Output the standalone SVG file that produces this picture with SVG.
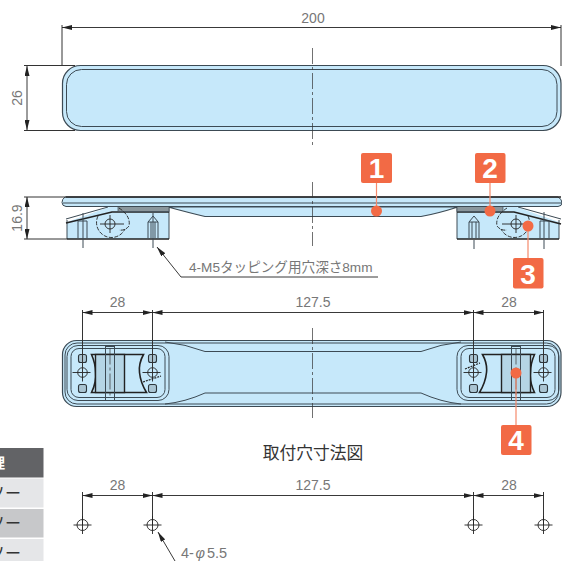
<svg xmlns="http://www.w3.org/2000/svg" xmlns:xlink="http://www.w3.org/1999/xlink" width="562" height="561" viewBox="0 0 562 561">
<style>
text{font-family:"Liberation Sans","Noto Sans CJK JP",sans-serif}
.dim{font-size:14px;fill:#777;text-anchor:middle}
.lbl{font-size:13.6px;fill:#777}
.d{fill:none;stroke:#222;stroke-width:.9}
.e{fill:none;stroke:#333;stroke-width:1}
.c{fill:none;stroke:#333;stroke-width:.7;stroke-dasharray:16 3 3 3}
.o{fill:#c6e8fa;stroke:#3c4a54;stroke-width:1.2}
.t{fill:none;stroke:#3c4a54;stroke-width:1}
.th{fill:none;stroke:#222;stroke-width:1.6}
.sq{fill:#a9c4d2;stroke:#2c363c;stroke-width:1.1}
.l{fill:none;stroke:#f58a6c;stroke-width:1.2}
.b{fill:#f26a45}
.n{font-size:28px;font-weight:bold;fill:#fff;text-anchor:middle}
.h{fill:none;stroke:#222;stroke-width:.9}
</style>
<defs>
<marker id="a" viewBox="0 0 10 5" refX="10" refY="2.500" markerWidth="10" markerHeight="5" markerUnits="userSpaceOnUse" orient="auto-start-reverse"><path d="M0 0L10 2.500L0 5z" fill="#222"/></marker>
<g id="hole"><circle r="5.500" class="h"/><path d="M-9 0H9M0-9V9" class="h"/></g>
<g id="mhole"><circle r="4.800" class="h"/><path d="M-10 0H8M0-9V9" class="h"/></g>
<g id="mount">
<rect x="4.500" y="5" width="102" height="55" rx="11" class="t"/>
<rect x="8.500" y="8" width="94" height="49" rx="8" class="t"/>
<rect x="16" y="14" width="8" height="8" rx="2" class="sq"/>
<rect x="16" y="44" width="8" height="8" rx="2" class="sq"/>
<rect x="86" y="14" width="8" height="8" rx="2" class="sq"/>
<rect x="86" y="44" width="8" height="8" rx="2" class="sq"/>
<path d="M29 14H81Q76 23 77 32Q78 42 84 52H29Q34 42 33 32Q33 23 29 14z" class="th" stroke-width="1.200"/>
<rect x="33" y="14" width="29" height="38" fill="#b5d5e5" stroke="#222" stroke-width="1.400"/>
<rect x="43" y="6" width="9" height="54" class="t"/>
<path d="M47.500 8V58" class="c"/>
</g>
</defs>

<g id="table">
<rect x="0" y="448" width="43.500" height="29.500" fill="#626366"/>
<rect x="0" y="478.500" width="43.500" height="29" fill="#e5e6e8"/>
<rect x="0" y="509" width="43.500" height="28.500" fill="#c7c8ca"/>
<rect x="0" y="539" width="43.500" height="22" fill="#e5e6e8"/>
<text x="5" y="468" font-size="14" font-weight="bold" fill="#fff" text-anchor="end">理</text>
<text x="21" y="499" font-size="16" fill="#333" text-anchor="end">ソー</text>
<text x="21" y="529" font-size="16" fill="#333" text-anchor="end">ソー</text>
<text x="21" y="559" font-size="16" fill="#333" text-anchor="end">ソー</text>
</g>

<g id="top-view">
<rect x="62.500" y="65.500" width="498.500" height="65" rx="18" class="o" stroke-width="1.600"/>
<rect x="66.500" y="69.500" width="490.500" height="57" rx="15" class="t"/>
</g>

<g id="side-view">
<path d="M67 222L112 206H169V239H67z" fill="#c6e8fa"/>
<path d="M457 206H514L559 222V239H457z" fill="#c6e8fa"/>
<path d="M168 207Q190 213 205 216.500H421Q436 214 458 207z" class="o"/>
<path d="M67 220V239M169 207V239" class="t"/>
<path d="M457 207V239M559 220V239" class="t"/>
<path d="M67 239H169M457 239H559" class="th" stroke-width="1.200"/>
<path d="M66 223L112 212H169" class="th"/>
<path d="M66 219L108 207" class="t"/>
<path d="M457 212H514L561 224" class="th"/>
<path d="M518 207L561 219" class="t"/>
<rect x="118" y="206.500" width="51" height="5" fill="#8a969c" stroke="#3c4a54" stroke-width=".7"/>
<rect x="457" y="206.500" width="46" height="5" fill="#8a969c" stroke="#3c4a54" stroke-width=".7"/>
<path d="M65 197H558Q562 199 562 203Q562 206 558 206.500H66Q62 206 62 202.500Q62 199 65 197z" fill="#c6e8fa" stroke="#3c4a54"/>
<path d="M66 197H561" class="th" stroke-width="2"/>
<path d="M63 203H562" class="t" stroke-width=".8"/>
<path d="M148 238V222L153 216L158 222V238M148 222H158M151 222V238M155 222V238" class="t"/>
<path d="M78 238V221H87V238M83 213V248M153 213V248" class="t"/>
<path d="M469 238V222L474 216L479 222V238M469 222H479M472 222V238M476 222V238" class="t"/>
<path d="M540 238V221H549V238M474 240V249M544 240V249M544 212V238" class="t"/>
<g fill="none" stroke="#222" stroke-width=".9" stroke-dasharray="4 1.500"><path d="M98 216A14 14 0 1 0 125 229"/><path d="M119 208Q131 216 129 226Q125 231 119 230"/><path d="M528 216A14 14 0 1 1 501 229"/><path d="M507 208Q495 216 497 226Q501 231 507 230"/></g>
<circle cx="110" cy="224" r="5" class="h"/><path d="M100 224H124M110 215V233" class="h"/>
<circle cx="516" cy="224" r="5" class="h"/><path d="M502 224H526M516 215V233" class="h"/>
</g>

<g id="bottom-view">
<rect x="62.500" y="340.500" width="498.500" height="66" rx="14" class="o"/>
<rect x="65" y="343" width="493.500" height="61" rx="12" class="t" stroke-width=".7"/>
<path d="M165 342Q185 344 205 351.500H421Q441 344 461 342M165 404Q185 402 205 393H421Q441 402 461 404" class="t"/>
<use xlink:href="#mount" href="#mount" x="62.500" y="340.500"/>
<use xlink:href="#mount" href="#mount" transform="translate(563.500 340.500) scale(-1 1)"/>
<use xlink:href="#mhole" href="#mhole" x="82.500" y="372.500"/>
<use xlink:href="#mhole" href="#mhole" x="152.500" y="372.500"/>
<use xlink:href="#mhole" href="#mhole" x="473.500" y="372.500"/>
<use xlink:href="#mhole" href="#mhole" x="543.500" y="372.500"/>
<path d="M143 382L161 376M465 369L480 363" stroke="#222" stroke-width="1.200" stroke-dasharray="2 1" fill="none"/>
</g>

<g id="connectors">
<path d="M62 25V66M561 25V66" class="e"/>
<path d="M62 27.500H561" class="d" marker-start="url(#a)" marker-end="url(#a)"/>
<path d="M24 65.500H75M24 130.500H75" class="e"/>
<path d="M27 66V130" class="d" marker-start="url(#a)" marker-end="url(#a)"/>
<path d="M24 197H66M24 239H67" class="e"/>
<path d="M27 197V239" class="d" marker-start="url(#a)" marker-end="url(#a)"/>
<path d="M312.500 48V148M312.500 182V246M312.500 328V418" class="c"/>
<path d="M181 277H378" class="d"/>
<path d="M181 277L157 247" class="d" marker-end="url(#a)"/>
<path d="M82.500 310V373M152.500 310V373M473.500 310V373M543.500 310V373" class="e"/>
<path d="M82.500 312.500H152.500" class="d" marker-start="url(#a)" marker-end="url(#a)"/>
<path d="M152.500 312.500H473.500" class="d" marker-start="url(#a)" marker-end="url(#a)"/>
<path d="M473.500 312.500H543.500" class="d" marker-start="url(#a)" marker-end="url(#a)"/>
<path d="M82.500 492V525M152.500 492V525M473.500 492V525M543.500 492V525" class="e"/>
<path d="M82.500 495.500H152.500" class="d" marker-start="url(#a)" marker-end="url(#a)"/>
<path d="M152.500 495.500H473.500" class="d" marker-start="url(#a)" marker-end="url(#a)"/>
<path d="M473.500 495.500H543.500" class="d" marker-start="url(#a)" marker-end="url(#a)"/>
<path d="M175 561L158 532" class="d" marker-end="url(#a)"/>
<path d="M376.500 183V211M490 183V211M528 226V258M516 373V425" class="l"/>
</g>

<g id="mounting-holes">
<use xlink:href="#hole" href="#hole" x="82.500" y="525"/>
<use xlink:href="#hole" href="#hole" x="152.500" y="525"/>
<use xlink:href="#hole" href="#hole" x="473.500" y="525"/>
<use xlink:href="#hole" href="#hole" x="543.500" y="525"/>
</g>

<g id="labels">
<text class="dim" x="313" y="23">200</text>
<text class="dim" transform="translate(22 98) rotate(-90)">26</text>
<text class="dim" transform="translate(22 218) rotate(-90)">16.9</text>
<text class="lbl" x="189" y="272">4-M5タッピング用穴深さ8mm</text>
<text class="dim" x="117.500" y="307">28</text>
<text class="dim" x="313" y="307">127.5</text>
<text class="dim" x="509" y="307">28</text>
<text x="313" y="459" font-size="16.800" fill="#333" text-anchor="middle">取付穴寸法図</text>
<text class="dim" x="117.500" y="490">28</text>
<text class="dim" x="313" y="490">127.5</text>
<text class="dim" x="509" y="490">28</text>
<text class="lbl" x="181" y="558" font-size="14.500" style="font-size:14.500px">4-<tspan font-style="italic" dx="1.500">φ</tspan><tspan dx="2">5.5</tspan></text>
</g>

<g id="badge-1"><circle class="b" cx="376.500" cy="211" r="5.500"/><rect class="b" x="361" y="153" width="31" height="30" rx="2"/><text class="n" x="376.500" y="178">1</text></g>
<g id="badge-2"><circle class="b" cx="490" cy="211" r="5.500"/><rect class="b" x="475" y="153" width="30.500" height="30" rx="2"/><text class="n" x="490" y="178">2</text></g>
<g id="badge-3"><circle class="b" cx="528" cy="226" r="5.500"/><rect class="b" x="513" y="258" width="30.500" height="30.500" rx="2"/><text class="n" x="528" y="283.500">3</text></g>
<g id="badge-4"><circle class="b" cx="516" cy="373" r="5.500"/><rect class="b" x="501" y="425" width="30.500" height="30" rx="2"/><text class="n" x="516" y="450">4</text></g>
</svg>
